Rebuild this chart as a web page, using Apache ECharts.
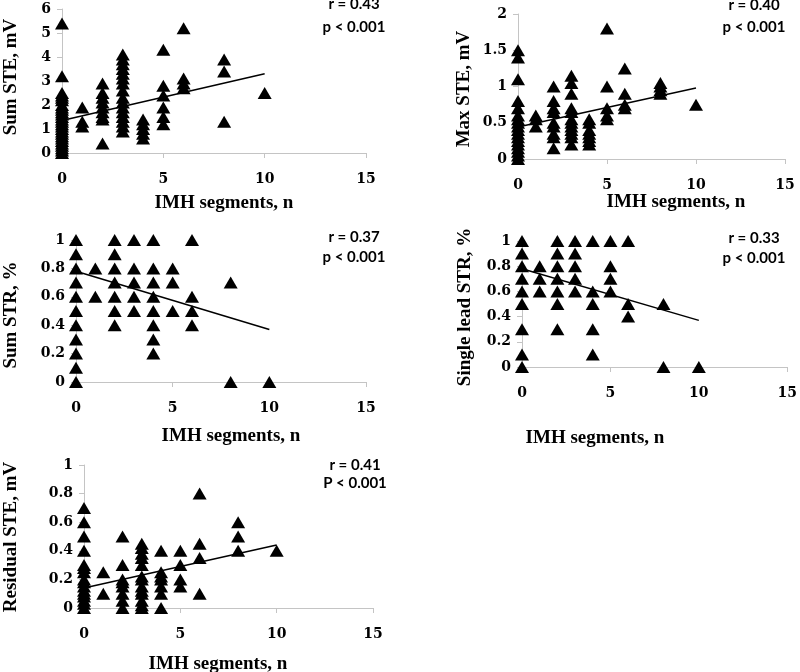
<!DOCTYPE html>
<html><head><meta charset="utf-8">
<script src="https://cdn.jsdelivr.net/npm/echarts@6/dist/echarts.min.js"></script>
<style>html,body{margin:0;padding:0;background:#fff}#c{width:800px;height:672px}</style>
</head><body><div id="c"></div>
<script>
// ---- Data (x = IMH segments, n) ----
const xTicks = [0, 5, 10, 15];

const sumSTE_x = [0,0,0,0,0,0,0,0,0,0,0,0,0,0,0,0,0,0,0,0,0,0,0,0,0,0,0,
  1,1,1, 2,2,2,2,2,2,2,2,2, 3,3,3,3,3,3,3,3,3,3,3,3,3,3,3,3,
  4,4,4,4,4, 5,5,5,5,5,5, 6,6,6,6, 8,8,8, 10];
const sumSTE_y = [5.4,3.2,2.5,2.4,2.3,2.2,2.0,1.9,1.8,1.7,1.6,1.5,1.4,1.3,1.2,1.1,1.0,0.9,0.8,0.7,0.6,0.5,0.4,0.3,0.2,0.1,0,
  1.9,1.3,1.1, 2.9,2.5,2.3,2.1,1.9,1.7,1.5,1.4,0.4, 4.1,3.9,3.7,3.5,3.3,3.1,2.9,2.6,2.3,2.1,1.9,1.7,1.5,1.3,1.1,0.9,
  1.4,1.2,1.0,0.8,0.6, 4.3,2.8,2.4,1.9,1.5,1.2, 5.2,3.1,2.9,2.7, 3.9,3.4,1.3, 2.5];
const sumSTE_trend = [[0, 1.35], [10, 3.3]];

const maxSTE_x = [0,0,0,0,0,0,0,0,0,0,0,0,0,0,0,0,0,0,
  1,1,1, 2,2,2,2,2,2,2,2,2, 3,3,3,3,3,3,3,3,3,3,3,3,
  4,4,4,4,4,4,4, 5,5,5,5,5, 6,6,6,6, 8,8,8,8, 10];
const maxSTE_y = [1.5,1.4,1.1,0.8,0.7,0.6,0.55,0.5,0.45,0.4,0.35,0.3,0.25,0.2,0.15,0.1,0.05,0,
  0.6,0.55,0.45, 1.0,0.8,0.7,0.65,0.5,0.45,0.35,0.3,0.15, 1.15,1.05,0.9,0.7,0.65,0.55,0.5,0.45,0.4,0.35,0.3,0.2,
  0.55,0.5,0.4,0.35,0.3,0.25,0.2, 1.8,1.0,0.7,0.6,0.55, 1.25,0.9,0.75,0.7, 1.05,1.0,0.95,0.9, 0.75];
const maxSTE_trend = [[0, 0.44], [10, 0.98]];

const sumSTR_x = [0,0,0,0,0,0,0,0,0,0,0, 1,1, 2,2,2,2,2,2,2, 3,3,3,3,3,
  4,4,4,4,4,4,4,4, 5,5,5, 6,6,6,6, 8,8, 10];
const sumSTR_y = [0,0.1,0.2,0.3,0.4,0.5,0.6,0.7,0.8,0.9,1.0, 0.8,0.6, 1.0,0.9,0.8,0.7,0.6,0.5,0.4, 1.0,0.8,0.7,0.6,0.5,
  1.0,0.8,0.7,0.6,0.5,0.4,0.3,0.2, 0.8,0.7,0.5, 1.0,0.6,0.5,0.4, 0.7,0, 0];
const sumSTR_trend = [[0, 0.78], [10, 0.37]];

const singleSTR_x = [0,0,0,0,0,0,0,0,0, 1,1,1, 2,2,2,2,2,2,2, 3,3,3,3,3,
  4,4,4,4,4, 5,5,5,5, 6,6,6, 8,8, 10];
const singleSTR_y = [0,0.1,0.3,0.5,0.6,0.7,0.8,0.9,1.0, 0.8,0.7,0.6, 1.0,0.9,0.8,0.7,0.6,0.5,0.3, 1.0,0.9,0.8,0.7,0.6,
  1.0,0.6,0.5,0.3,0.1, 1.0,0.8,0.7,0.6, 1.0,0.5,0.4, 0.5,0, 0];
const singleSTR_trend = [[0, 0.78], [10, 0.37]];

const resSTE_x = [0,0,0,0,0,0,0,0,0,0,0,0,0,0,0,0, 1,1, 2,2,2,2,2,2,2,2,
  3,3,3,3,3,3,3,3,3,3,3,3,3, 4,4,4,4,4,4,4, 5,5,5,5, 6,6,6,6, 8,8,8, 10];
const resSTE_y = [0.7,0.6,0.5,0.4,0.3,0.28,0.25,0.2,0.18,0.15,0.12,0.1,0.08,0.05,0.03,0, 0.25,0.1,
  0.5,0.3,0.2,0.18,0.15,0.1,0.05,0,
  0.45,0.42,0.38,0.35,0.3,0.22,0.2,0.15,0.12,0.1,0.05,0.02,0,
  0.4,0.25,0.22,0.2,0.15,0.1,0, 0.4,0.3,0.2,0.15, 0.8,0.45,0.35,0.1, 0.6,0.5,0.4, 0.4];
const resSTE_trend = [[0, 0.14], [10, 0.44]];

const panelNames = ['Sum STE, mV', 'Max STE, mV', 'Sum STR, %', 'Single lead STR, %', 'Residual STE, mV'];
const panelR = ['r = 0.43', 'r = 0.40', 'r = 0.37', 'r = 0.33', 'r = 0.41'];
const panelP = ['p < 0.001', 'p < 0.001', 'p < 0.001', 'p < 0.001', 'P < 0.001'];
const xName = 'IMH segments, n';
const yMax = [6, 2, 1, 1, 1];
const yInterval = [1, 0.5, 0.2, 0.2, 0.2];

// ---- Layout ----
const grids = [
  {left: 62, top: 9, width: 304, height: 144},
  {left: 518, top: 14, width: 267, height: 145},
  {left: 76, top: 240, width: 290, height: 142},
  {left: 522, top: 241, width: 268, height: 126},
  {left: 84, top: 465, width: 289, height: 143}
];
const yTitlePos = [[11, 77], [464, 89], [11, 315], [465, 307], [11, 537]];
const xTitlePos = [[224, 203], [676, 202], [231, 436], [595, 438], [218, 664]];
const statPos = [[354, 4, 27], [754, 5, 27], [354, 237, 257], [754, 238, 258], [355, 465, 483]];

const scatters = [[sumSTE_x, sumSTE_y, sumSTE_trend], [maxSTE_x, maxSTE_y, maxSTE_trend],
  [sumSTR_x, sumSTR_y, sumSTR_trend], [singleSTR_x, singleSTR_y, singleSTR_trend],
  [resSTE_x, resSTE_y, resSTE_trend]];

const axisColor = '#c4c4c4';
const tickFont = {fontFamily: 'DejaVu Serif', fontWeight: 'bold', fontSize: 14, color: '#000'};

const xAxes = [], yAxes = [], series = [], graphic = [];
grids.forEach((g, i) => {
  xAxes.push({gridIndex: i, type: 'value', min: 0, max: 15, interval: 5,
    axisLine: {show: true, lineStyle: {color: axisColor, width: 1}},
    axisTick: {show: true, length: 5, lineStyle: {color: axisColor}},
    splitLine: {show: false},
    axisLabel: Object.assign({margin: 19}, tickFont)});
  yAxes.push({gridIndex: i, type: 'value', min: 0, max: yMax[i], interval: yInterval[i],
    axisLine: {show: true, lineStyle: {color: axisColor, width: 1}},
    axisTick: {show: true, length: 5, lineStyle: {color: axisColor}},
    splitLine: {show: false},
    axisLabel: Object.assign({margin: 11}, tickFont)});
  const [xs, ys, tr] = scatters[i];
  series.push({type: 'scatter', xAxisIndex: i, yAxisIndex: i, symbol: 'triangle',
    symbolSize: [14, 12], itemStyle: {color: '#000', opacity: 1}, clip: false, z: 3,
    data: xs.map((x, k) => [x, ys[k]])});
  series.push({type: 'line', xAxisIndex: i, yAxisIndex: i, data: tr, symbol: 'none',
    lineStyle: {color: '#000', width: 1.5}, z: 4});
  graphic.push({type: 'text', x: yTitlePos[i][0], y: yTitlePos[i][1], rotation: Math.PI / 2,
    style: {text: panelNames[i], fill: '#000', font: 'bold 19px "Liberation Serif"',
      textAlign: 'center', textVerticalAlign: 'middle'}});
  graphic.push({type: 'text', x: xTitlePos[i][0], y: xTitlePos[i][1],
    style: {text: xName, fill: '#000', font: 'bold 19px "Liberation Serif"',
      textAlign: 'center', textVerticalAlign: 'middle'}});
  graphic.push({type: 'text', x: statPos[i][0], y: statPos[i][1],
    style: {text: panelR[i], fill: '#000', font: 'bold 15px Lato',
      textAlign: 'center', textVerticalAlign: 'middle'}});
  graphic.push({type: 'text', x: statPos[i][0], y: statPos[i][2],
    style: {text: panelP[i], fill: '#000', font: 'bold 15px Lato',
      textAlign: 'center', textVerticalAlign: 'middle'}});
});

const chart = echarts.init(document.getElementById('c'), null, {renderer: 'canvas'});
chart.setOption({
  animation: false,
  backgroundColor: '#fff',
  grid: grids,
  xAxis: xAxes,
  yAxis: yAxes,
  series: series,
  graphic: graphic
});
</script>
</body></html>
